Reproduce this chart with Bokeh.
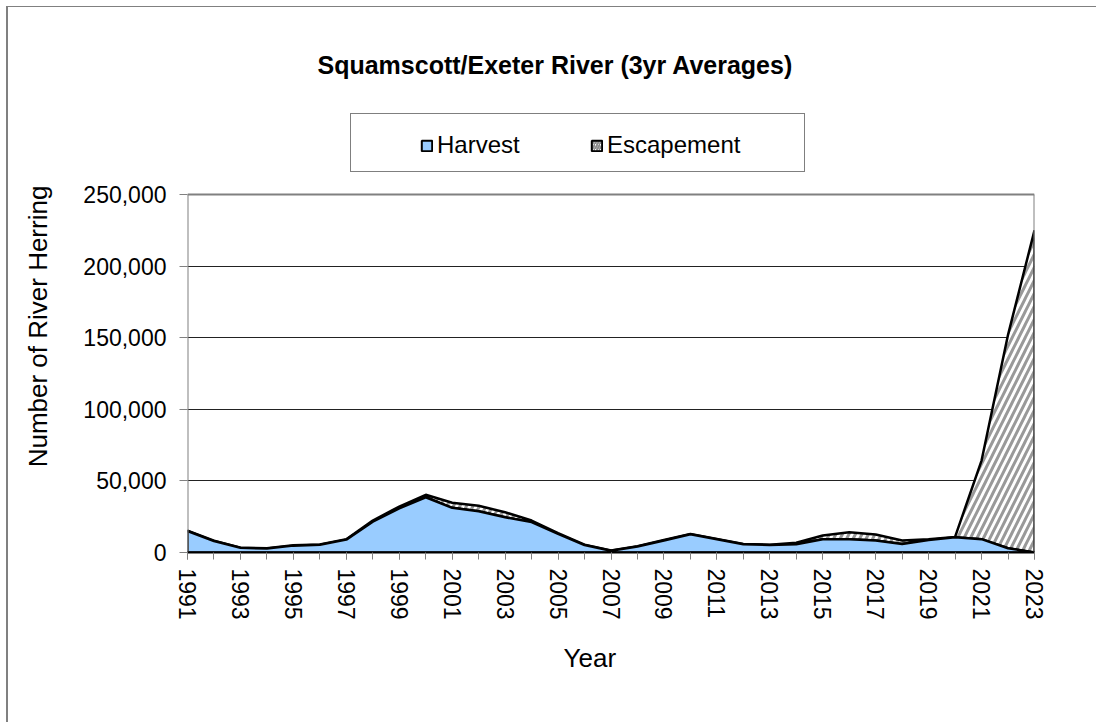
import math
from bokeh.plotting import figure
from bokeh.models import (Range1d, FixedTicker, NumeralTickFormatter, Legend, LegendItem, Title)
from bokeh.embed import file_html
from bokeh.resources import INLINE

years = [1991, 1992, 1993, 1994, 1995, 1996, 1997, 1998, 1999, 2000, 2001, 2002, 2003,
         2004, 2005, 2006, 2007, 2008, 2009, 2010, 2011, 2012, 2013, 2014, 2015, 2016,
         2017, 2018, 2019, 2020, 2021, 2022, 2023]
harvest = [15000, 8000, 3300, 2800, 4800, 5400, 9000, 21500, 30800, 38600, 31200, 28800, 24600,
           21200, 13000, 5200, 1200, 4200, 8400, 12800, 9300, 5800, 5200, 5800, 9300, 9300,
           8400, 6000, 8800, 10700, 9300, 3000, 0]
escapement = [300, 200, 100, 100, 300, 200, 300, 800, 1300, 1700, 3500, 3800, 3500,
              1100, 500, 200, 200, 200, 300, 200, 200, 200, 200, 1000, 2600, 4900,
              4200, 2400, 500, 200, 54900, 149000, 225000]
y_ticks = [0, 50000, 100000, 150000, 200000, 250000]
x_label_years = [y for y in years if y % 2 == 1]

FONT = "Liberation Sans"
total = [h + e for h, e in zip(harvest, escapement)]

# layout geometry (pixels)
PLOT_H = 358          # height of the value area (0 .. 250,000)
FRAME_H = 452         # frame extended upward to host the legend
y_end = y_ticks[-1] * FRAME_H / PLOT_H

bg = ("linear-gradient(#808080,#808080) 6px 6px / 2px calc(100% - 6px) no-repeat, "
      "linear-gradient(#808080,#808080) 6px 6px / calc(100% - 6px) 1px no-repeat, #ffffff")

p = figure(output_backend="svg", toolbar_location=None,
           frame_width=847, frame_height=FRAME_H,
           min_border_left=187, min_border_right=62, min_border_top=100, min_border_bottom=170,
           x_range=Range1d(years[0], years[-1]), y_range=Range1d(0, y_end),
           styles={"background": bg})

p.background_fill_color = "white"
p.border_fill_alpha = 0
p.outline_line_color = None

# title
p.title.text = "Squamscott/Exeter River (3yr Averages)"
p.title.text_font = FONT
p.title.text_font_size = "25px"
p.title.text_font_style = "bold"
p.title.text_color = "black"
p.title.align = "left"
p.title.offset = 130
p.title.standoff = 43

p.xgrid.visible = False
p.ygrid.ticker = FixedTicker(ticks=y_ticks[1:-1])
p.ygrid.grid_line_color = "#222222"
p.ygrid.grid_line_width = 1

# areas
harv_x = years + [years[-1], years[0]]
harv_y = harvest + [0, 0]
esc_x = years + years[::-1]
esc_y = total + harvest[::-1]

p.patch(esc_x, esc_y, fill_color="white", hatch_pattern="/", hatch_color="#999999",
        hatch_weight=3, hatch_scale=13, line_color="black", line_width=2.5)
p.patch(harv_x, harv_y, fill_color="#99ccff", line_color="black", line_width=2.5)

# plot-area border (top, right) and value axis line
p.segment(x0=[years[0]], y0=[y_ticks[-1]], x1=[years[-1]], y1=[y_ticks[-1]],
          line_color="#808080", line_width=2)
p.segment(x0=[years[-1]], y0=[0], x1=[years[-1]], y1=[y_ticks[-1]],
          line_color="#808080", line_width=2)
p.segment(x0=[years[0]], y0=[0], x1=[years[0]], y1=[y_ticks[-1]],
          line_color="#808080", line_width=2)

# axes
p.xaxis.ticker = FixedTicker(ticks=x_label_years, minor_ticks=years)
p.xaxis.major_label_orientation = -math.pi / 2
p.xaxis.major_label_text_font = FONT
p.xaxis.major_label_text_font_size = "23px"
p.xaxis.major_label_text_color = "black"
p.xaxis.major_label_standoff = 9
p.xaxis.major_tick_in = 0
p.xaxis.major_tick_out = 7
p.xaxis.minor_tick_in = 0
p.xaxis.minor_tick_out = 7
p.xaxis.major_tick_line_color = "#808080"
p.xaxis.minor_tick_line_color = "#808080"
p.xaxis.axis_line_color = "black"
p.xaxis.axis_line_width = 2

p.yaxis.ticker = FixedTicker(ticks=y_ticks, minor_ticks=[])
p.yaxis.formatter = NumeralTickFormatter(format="0,0")
p.yaxis.major_label_text_font = FONT
p.yaxis.major_label_text_font_size = "23px"
p.yaxis.major_label_text_color = "black"
p.yaxis.major_label_standoff = 13
p.yaxis.major_tick_in = 0
p.yaxis.major_tick_out = 8
p.yaxis.major_tick_line_color = "#808080"
p.yaxis.axis_line_color = None
p.yaxis.axis_label = "Number of River Herring"
p.yaxis.axis_label_text_font = FONT
p.yaxis.axis_label_text_font_size = "26px"
p.yaxis.axis_label_text_font_style = "normal"
p.yaxis.axis_label_text_color = "black"
p.yaxis.axis_label_standoff = 27

xlab = Title(text="Year", align="left", offset=376, text_font=FONT, text_font_size="26px",
             text_font_style="normal", text_color="black", standoff=37)
p.add_layout(xlab, "below")

# legend (proxy renderers are hidden; they only supply the legend swatches)
box_r = p.quad(left=[years[0]], right=[years[0]], top=[0], bottom=[0],
               fill_alpha=0, line_alpha=0, visible=False)
harv_r = p.quad(left=[years[0]], right=[years[0]], top=[0], bottom=[0], fill_color="#99ccff",
                line_color="black", line_width=2, visible=False)
esc_r = p.quad(left=[years[0]], right=[years[0]], top=[0], bottom=[0], fill_color="white",
               hatch_pattern="/", hatch_color="#8c8c8c", hatch_weight=2, hatch_scale=5,
               line_color="black", line_width=2, visible=False)

box_legend = Legend(items=[LegendItem(label=" ", renderers=[box_r])],
                    location=(163, 380), orientation="horizontal",
                    glyph_width=453, glyph_height=57, label_width=0, label_height=0,
                    label_standoff=0, padding=0, spacing=0, margin=0,
                    label_text_font_size="1px", inactive_fill_alpha=0,
                    border_line_color="black", border_line_width=1,
                    background_fill_color="white", background_fill_alpha=1)
items_legend = Legend(items=[LegendItem(label="Harvest", renderers=[harv_r]),
                             LegendItem(label="Escapement", renderers=[esc_r])],
                      location=(233, 389), orientation="horizontal",
                      glyph_width=13, glyph_height=13, label_width=150, label_height=36,
                      label_standoff=4, padding=0, spacing=3, margin=0,
                      label_text_font=FONT, label_text_font_size="24px",
                      label_text_color="black", inactive_fill_alpha=0,
                      border_line_alpha=0, background_fill_alpha=0)
p.add_layout(box_legend)
p.add_layout(items_legend)

open("out.html", "w").write(file_html(p, INLINE))
